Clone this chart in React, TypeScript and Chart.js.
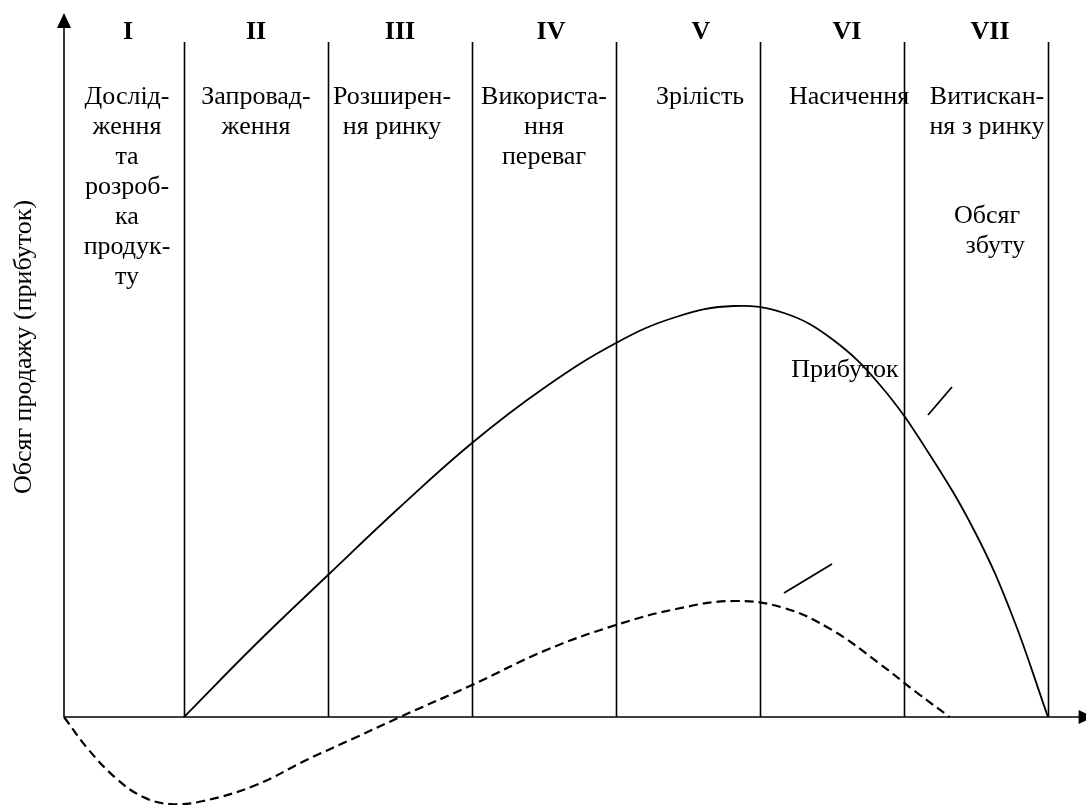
import React, { useEffect, useRef } from "react";
import { Chart, registerables } from "chart.js";

Chart.register(...registerables);

// ---- data ----
const stageBounds = [0, 5, 11, 17, 23, 29, 35, 41];
const stageNumerals = ["I", "II", "III", "IV", "V", "VI", "VII"];
const stageNames = [
  ["Дослід-", "ження", "та", "розроб-", "ка", "продук-", "ту"],
  ["Запровад-", "ження"],
  ["Розширен-", "ня ринку"],
  ["Використа-", "ння", "переваг"],
  ["Зрілість"],
  ["Насичення"],
  ["Витискан-", "ня з ринку"],
];
const yAxisTitle = "Обсяг продажу (прибуток)";
const salesLabel = ["Обсяг", "збуту"];
const profitLabel = "Прибуток";

const salesX = [5, 8, 11, 14, 17, 20, 23, 25.5, 27.9, 30, 32, 34, 36, 38, 39.5, 41];
const salesY = [0, 7.3, 14.2, 21.0, 27.4, 32.9, 37.4, 40.0, 41.1, 40.4, 37.8, 33.2, 26.5, 18.3, 10.2, 0];

const profitX = [0, 1, 2.2, 3.3, 4.4, 5.8, 8, 10.1, 12.2, 14, 17, 20.1, 23, 25.5, 27.9, 30, 32, 34, 35.5, 36.9];
const profitY = [0, -3.2, -6.2, -8.0, -8.7, -8.4, -6.8, -4.3, -2.0, 0, 3.2, 6.7, 9.2, 10.8, 11.6, 10.9, 8.7, 5.3, 2.5, 0];

const salesLeaderX = [36, 37];
const salesLeaderY = [30.2, 33.0];
const profitLeaderX = [30, 32];
const profitLeaderY = [12.4, 15.3];

// ---- layout ----
const W = 1086;
const H = 805;
const X_MIN = -64 / 24;
const X_MAX = (W - 64) / 24;
const Y_MAX = 71.7;
const Y_MIN = -8.8;
const STAGE_TOP = 67.5;
const Y_TIP = 70.4;
const X_TIP = 42.9;
const numeralOffsets = [4, 0, 0, 7, 13, 15, 14];
const nameOffsets = [3, 0, -8, 0, 12, 17, 11];
const SERIF = '"Liberation Serif", "Times New Roman", serif';

const toPts = (xs: number[], ys: number[]) => xs.map((x, i) => ({ x, y: ys[i] }));

const diagramPlugin = {
  id: "diagram",
  beforeDatasetsDraw(chart: any) {
    const { ctx, scales } = chart;
    const xs = scales.x;
    const ys = scales.y;
    const x0 = xs.getPixelForValue(0);
    const y0 = ys.getPixelForValue(0);
    ctx.save();
    ctx.strokeStyle = "#000";
    ctx.fillStyle = "#000";
    ctx.lineWidth = 1.6;
    const top = ys.getPixelForValue(STAGE_TOP);
    stageBounds.slice(1).forEach((b) => {
      const px = Math.round(xs.getPixelForValue(b)) + 0.5;
      ctx.beginPath();
      ctx.moveTo(px, y0);
      ctx.lineTo(px, top);
      ctx.stroke();
    });
    const tipY = ys.getPixelForValue(Y_TIP);
    ctx.beginPath();
    ctx.moveTo(x0, y0);
    ctx.lineTo(x0, tipY + 10);
    ctx.stroke();
    ctx.beginPath();
    ctx.moveTo(x0, tipY);
    ctx.lineTo(x0 - 7, tipY + 15);
    ctx.lineTo(x0 + 7, tipY + 15);
    ctx.closePath();
    ctx.fill();
    const tipX = xs.getPixelForValue(X_TIP);
    ctx.beginPath();
    ctx.moveTo(x0, y0);
    ctx.lineTo(tipX - 10, y0);
    ctx.stroke();
    ctx.beginPath();
    ctx.moveTo(tipX, y0);
    ctx.lineTo(tipX - 15, y0 - 7);
    ctx.lineTo(tipX - 15, y0 + 7);
    ctx.closePath();
    ctx.fill();
    ctx.restore();
  },
  afterDatasetsDraw(chart: any) {
    const { ctx, scales } = chart;
    const xs = scales.x;
    const ys = scales.y;
    const x0 = xs.getPixelForValue(0);
    const top = ys.getPixelForValue(STAGE_TOP);
    ctx.save();
    ctx.fillStyle = "#000";
    ctx.textAlign = "center";
    ctx.textBaseline = "alphabetic";
    for (let i = 0; i < stageNumerals.length; i++) {
      const cx = (xs.getPixelForValue(stageBounds[i]) + xs.getPixelForValue(stageBounds[i + 1])) / 2;
      ctx.font = `bold 26px ${SERIF}`;
      ctx.fillText(stageNumerals[i], cx + numeralOffsets[i], top - 3);
      ctx.font = `26px ${SERIF}`;
      stageNames[i].forEach((line, j) => {
        ctx.fillText(line, cx + nameOffsets[i], top + 62 + j * 30);
      });
    }
    ctx.font = `26px ${SERIF}`;
    ctx.fillText(salesLabel[0], xs.getPixelForValue(38.46), ys.getPixelForValue(49.4));
    ctx.fillText(salesLabel[1], xs.getPixelForValue(38.8), ys.getPixelForValue(46.4));
    ctx.fillText(profitLabel, xs.getPixelForValue(32.54), ys.getPixelForValue(34.0));
    ctx.translate(x0 - 33, ys.getPixelForValue(37));
    ctx.rotate(-Math.PI / 2);
    ctx.fillText(yAxisTitle, 0, 0);
    ctx.restore();
  },
};

export default function App() {
  const ref = useRef<HTMLCanvasElement | null>(null);
  useEffect(() => {
    document.body.style.margin = "0";
    const canvas = ref.current;
    if (!canvas) return;
    const lineStyle = { pointRadius: 0, borderColor: "#000", fill: false };
    const chart = new Chart(canvas, {
      type: "line",
      data: {
        datasets: [
          {
            ...lineStyle,
            label: "Обсяг збуту",
            data: toPts(salesX, salesY),
            borderWidth: 1.8,
            tension: 0.4,
          },
          {
            ...lineStyle,
            label: "Прибуток",
            data: toPts(profitX, profitY),
            borderWidth: 2.2,
            borderDash: [9, 5],
            tension: 0.4,
          },
          { ...lineStyle, label: "l1", data: toPts(salesLeaderX, salesLeaderY), borderWidth: 1.8, tension: 0 },
          { ...lineStyle, label: "l2", data: toPts(profitLeaderX, profitLeaderY), borderWidth: 1.8, tension: 0 },
        ],
      } as any,
      options: {
        animation: false,
        responsive: false,
        layout: { padding: 0 },
        plugins: { legend: { display: false }, tooltip: { enabled: false } },
        scales: {
          x: { type: "linear", min: X_MIN, max: X_MAX, display: false },
          y: { type: "linear", min: Y_MIN, max: Y_MAX, display: false },
        },
      } as any,
      plugins: [diagramPlugin],
    });
    return () => chart.destroy();
  }, []);
  return (
    <div style={{ position: "absolute", left: 0, top: 0, width: W, height: H, background: "#fff" }}>
      <canvas ref={ref} width={W} height={H} style={{ width: W, height: H, display: "block" }} />
    </div>
  );
}
